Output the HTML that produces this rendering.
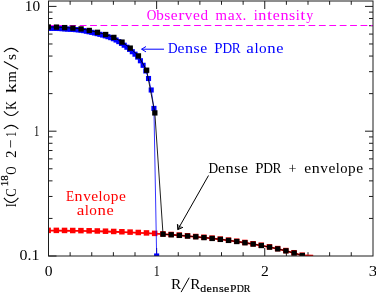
<!DOCTYPE html>
<html><head><meta charset="utf-8"><title>plot</title>
<style>html,body{margin:0;padding:0;background:#fff;overflow:hidden}svg{display:block;will-change:transform}text{font-family:"Liberation Serif",serif;}</style></head><body>
<svg width="376" height="293" viewBox="0 0 376 293">
<rect width="376" height="293" fill="#fff"/>
<defs><clipPath id="c"><rect x="48.5" y="1.0" width="324.5" height="255.0"/></clipPath></defs>
<path d="M48.50 256.0v-8.0M48.50 1.0v8.0M70.13 256.0v-3.8M70.13 1.0v3.8M91.75 256.0v-3.8M91.75 1.0v3.8M113.38 256.0v-3.8M113.38 1.0v3.8M135.00 256.0v-3.8M135.00 1.0v3.8M156.63 256.0v-8.0M156.63 1.0v8.0M178.26 256.0v-3.8M178.26 1.0v3.8M199.88 256.0v-3.8M199.88 1.0v3.8M221.51 256.0v-3.8M221.51 1.0v3.8M243.13 256.0v-3.8M243.13 1.0v3.8M264.76 256.0v-8.0M264.76 1.0v8.0M286.39 256.0v-3.8M286.39 1.0v3.8M308.01 256.0v-3.8M308.01 1.0v3.8M329.64 256.0v-3.8M329.64 1.0v3.8M351.26 256.0v-3.8M351.26 1.0v3.8M48.5 256.00h8.0M48.5 218.43h4.0M373.0 218.43h-4.0M48.5 196.46h4.0M373.0 196.46h-4.0M48.5 180.86h4.0M373.0 180.86h-4.0M48.5 168.77h4.0M373.0 168.77h-4.0M48.5 158.89h4.0M373.0 158.89h-4.0M48.5 150.53h4.0M373.0 150.53h-4.0M48.5 143.29h4.0M373.0 143.29h-4.0M48.5 136.91h4.0M373.0 136.91h-4.0M48.5 131.20h8.0M373.0 131.20h-8.0M48.5 93.63h4.0M373.0 93.63h-4.0M48.5 71.66h4.0M373.0 71.66h-4.0M48.5 56.06h4.0M373.0 56.06h-4.0M48.5 43.97h4.0M373.0 43.97h-4.0M48.5 34.09h4.0M373.0 34.09h-4.0M48.5 25.73h4.0M373.0 25.73h-4.0M48.5 18.49h4.0M373.0 18.49h-4.0M48.5 12.11h4.0M373.0 12.11h-4.0M48.5 6.40h8.0M373.0 6.40h-8.0" stroke="#1c1c1c" stroke-width="1" fill="none"/>
<g clip-path="url(#c)">
<path d="M48.30 230.66 L56.49 230.68 L64.69 230.73 L72.88 230.81 L81.08 230.93 L89.28 231.08 L97.47 231.27 L105.66 231.50 L113.86 231.76 L122.05 232.06 L130.25 232.40 L138.44 232.78 L146.64 233.21 L154.83 233.68 L163.03 234.19 L171.23 234.76 L179.42 235.38 L187.62 236.05 L195.81 236.78 L204.00 237.58 L212.20 238.44 L220.39 239.39 L228.59 240.41 L236.79 241.52 L244.98 242.74 L253.18 244.07 L261.37 245.52 L269.57 247.12 L277.76 248.89 L285.95 250.85 L294.15 253.04 L302.35 255.51 L313.20 255.70" stroke="#ff0000" stroke-width="1.8" fill="none"/>
<rect x="45.40" y="227.61" width="5.5" height="5.5" fill="#ff0000"/>
<rect x="53.59" y="227.63" width="5.5" height="5.5" fill="#ff0000"/>
<rect x="61.79" y="227.68" width="5.5" height="5.5" fill="#ff0000"/>
<rect x="69.98" y="227.76" width="5.5" height="5.5" fill="#ff0000"/>
<rect x="78.18" y="227.88" width="5.5" height="5.5" fill="#ff0000"/>
<rect x="86.38" y="228.03" width="5.5" height="5.5" fill="#ff0000"/>
<rect x="94.57" y="228.22" width="5.5" height="5.5" fill="#ff0000"/>
<rect x="102.76" y="228.45" width="5.5" height="5.5" fill="#ff0000"/>
<rect x="110.96" y="228.71" width="5.5" height="5.5" fill="#ff0000"/>
<rect x="119.15" y="229.01" width="5.5" height="5.5" fill="#ff0000"/>
<rect x="127.35" y="229.35" width="5.5" height="5.5" fill="#ff0000"/>
<rect x="135.54" y="229.73" width="5.5" height="5.5" fill="#ff0000"/>
<rect x="143.74" y="230.16" width="5.5" height="5.5" fill="#ff0000"/>
<rect x="151.93" y="230.63" width="5.5" height="5.5" fill="#ff0000"/>
<rect x="160.13" y="231.14" width="5.5" height="5.5" fill="#ff0000"/>
<rect x="168.33" y="231.71" width="5.5" height="5.5" fill="#ff0000"/>
<rect x="176.52" y="232.33" width="5.5" height="5.5" fill="#ff0000"/>
<rect x="184.72" y="233.00" width="5.5" height="5.5" fill="#ff0000"/>
<rect x="192.91" y="233.73" width="5.5" height="5.5" fill="#ff0000"/>
<rect x="201.10" y="234.53" width="5.5" height="5.5" fill="#ff0000"/>
<rect x="209.30" y="235.39" width="5.5" height="5.5" fill="#ff0000"/>
<rect x="217.49" y="236.34" width="5.5" height="5.5" fill="#ff0000"/>
<rect x="225.69" y="237.36" width="5.5" height="5.5" fill="#ff0000"/>
<rect x="233.89" y="238.47" width="5.5" height="5.5" fill="#ff0000"/>
<rect x="242.08" y="239.69" width="5.5" height="5.5" fill="#ff0000"/>
<rect x="250.28" y="241.02" width="5.5" height="5.5" fill="#ff0000"/>
<rect x="258.47" y="242.47" width="5.5" height="5.5" fill="#ff0000"/>
<rect x="266.67" y="244.07" width="5.5" height="5.5" fill="#ff0000"/>
<rect x="274.86" y="245.84" width="5.5" height="5.5" fill="#ff0000"/>
<rect x="283.06" y="247.80" width="5.5" height="5.5" fill="#ff0000"/>
<rect x="291.25" y="249.99" width="5.5" height="5.5" fill="#ff0000"/>
<rect x="299.45" y="252.46" width="5.5" height="5.5" fill="#ff0000"/>
<path d="M48.50 28.28 L51.20 28.29 L53.91 28.32 L56.61 28.39 L59.31 28.51 L62.02 28.69 L64.72 28.89 L67.42 29.06 L70.13 29.22 L72.83 29.40 L75.53 29.62 L78.24 29.88 L80.94 30.20 L83.64 30.63 L86.35 31.17 L89.05 31.76 L91.75 32.34 L94.46 32.96 L97.16 33.62 L99.86 34.31 L102.56 35.04 L105.27 35.83 L107.97 36.69 L110.67 37.63 L113.38 38.71 L116.08 40.03 L118.78 41.62 L121.49 43.38 L124.19 45.22 L126.89 47.22 L129.60 49.39 L132.30 51.71 L135.00 54.19 L137.71 57.10 L140.41 60.75 L143.11 65.29 L145.82 70.95 L148.52 78.50 L151.22 90.00 L153.93 108.40 L156.63 256.00" stroke="#0000ff" stroke-width="0.8" fill="none"/>
<rect x="45.95" y="25.73" width="5.1" height="5.1" fill="#0000ff"/>
<rect x="48.65" y="25.74" width="5.1" height="5.1" fill="#0000ff"/>
<rect x="51.36" y="25.77" width="5.1" height="5.1" fill="#0000ff"/>
<rect x="54.06" y="25.84" width="5.1" height="5.1" fill="#0000ff"/>
<rect x="56.76" y="25.96" width="5.1" height="5.1" fill="#0000ff"/>
<rect x="59.47" y="26.14" width="5.1" height="5.1" fill="#0000ff"/>
<rect x="62.17" y="26.34" width="5.1" height="5.1" fill="#0000ff"/>
<rect x="64.87" y="26.51" width="5.1" height="5.1" fill="#0000ff"/>
<rect x="67.58" y="26.67" width="5.1" height="5.1" fill="#0000ff"/>
<rect x="70.28" y="26.85" width="5.1" height="5.1" fill="#0000ff"/>
<rect x="72.98" y="27.07" width="5.1" height="5.1" fill="#0000ff"/>
<rect x="75.69" y="27.33" width="5.1" height="5.1" fill="#0000ff"/>
<rect x="78.39" y="27.65" width="5.1" height="5.1" fill="#0000ff"/>
<rect x="81.09" y="28.08" width="5.1" height="5.1" fill="#0000ff"/>
<rect x="83.80" y="28.62" width="5.1" height="5.1" fill="#0000ff"/>
<rect x="86.50" y="29.21" width="5.1" height="5.1" fill="#0000ff"/>
<rect x="89.20" y="29.79" width="5.1" height="5.1" fill="#0000ff"/>
<rect x="91.91" y="30.41" width="5.1" height="5.1" fill="#0000ff"/>
<rect x="94.61" y="31.07" width="5.1" height="5.1" fill="#0000ff"/>
<rect x="97.31" y="31.76" width="5.1" height="5.1" fill="#0000ff"/>
<rect x="100.02" y="32.49" width="5.1" height="5.1" fill="#0000ff"/>
<rect x="102.72" y="33.28" width="5.1" height="5.1" fill="#0000ff"/>
<rect x="105.42" y="34.14" width="5.1" height="5.1" fill="#0000ff"/>
<rect x="108.12" y="35.08" width="5.1" height="5.1" fill="#0000ff"/>
<rect x="110.83" y="36.16" width="5.1" height="5.1" fill="#0000ff"/>
<rect x="113.53" y="37.48" width="5.1" height="5.1" fill="#0000ff"/>
<rect x="116.23" y="39.07" width="5.1" height="5.1" fill="#0000ff"/>
<rect x="118.94" y="40.83" width="5.1" height="5.1" fill="#0000ff"/>
<rect x="121.64" y="42.67" width="5.1" height="5.1" fill="#0000ff"/>
<rect x="124.34" y="44.67" width="5.1" height="5.1" fill="#0000ff"/>
<rect x="127.05" y="46.84" width="5.1" height="5.1" fill="#0000ff"/>
<rect x="129.75" y="49.16" width="5.1" height="5.1" fill="#0000ff"/>
<rect x="132.45" y="51.64" width="5.1" height="5.1" fill="#0000ff"/>
<rect x="135.16" y="54.55" width="5.1" height="5.1" fill="#0000ff"/>
<rect x="137.86" y="58.20" width="5.1" height="5.1" fill="#0000ff"/>
<rect x="140.56" y="62.74" width="5.1" height="5.1" fill="#0000ff"/>
<rect x="143.27" y="68.40" width="5.1" height="5.1" fill="#0000ff"/>
<rect x="145.97" y="75.95" width="5.1" height="5.1" fill="#0000ff"/>
<rect x="148.67" y="87.45" width="5.1" height="5.1" fill="#0000ff"/>
<rect x="151.38" y="105.85" width="5.1" height="5.1" fill="#0000ff"/>
<rect x="154.08" y="253.45" width="5.1" height="5.1" fill="#0000ff"/>
<path d="M48.5 25.4H373.0" stroke="#ff00ff" stroke-width="1.05" stroke-dasharray="6.8 3.6" fill="none"/>
<path d="M48.30 27.00 L56.49 27.10 L64.69 27.60 L72.88 28.10 L81.08 28.90 L89.28 30.45 L97.47 32.30 L105.66 34.50 L113.86 37.40 L122.05 42.10 L130.25 48.10 L138.44 55.90 L146.64 70.20 L154.83 112.90 L163.03 234.19 L171.23 234.76 L179.42 235.38 L187.62 236.05 L195.81 236.78 L204.00 237.58 L212.20 238.44 L220.39 239.39 L228.59 240.41 L236.79 241.52 L244.98 242.74 L253.18 244.07 L261.37 245.52 L269.57 247.12 L277.76 248.89 L285.95 250.85 L294.15 253.04 L302.35 255.51" stroke="#000" stroke-width="0.88" fill="none"/>
<rect x="45.65" y="24.35" width="5.3" height="5.3" fill="#000"/>
<rect x="53.84" y="24.45" width="5.3" height="5.3" fill="#000"/>
<rect x="62.04" y="24.95" width="5.3" height="5.3" fill="#000"/>
<rect x="70.23" y="25.45" width="5.3" height="5.3" fill="#000"/>
<rect x="78.43" y="26.25" width="5.3" height="5.3" fill="#000"/>
<rect x="86.62" y="27.80" width="5.3" height="5.3" fill="#000"/>
<rect x="94.82" y="29.65" width="5.3" height="5.3" fill="#000"/>
<rect x="103.01" y="31.85" width="5.3" height="5.3" fill="#000"/>
<rect x="111.21" y="34.75" width="5.3" height="5.3" fill="#000"/>
<rect x="119.40" y="39.45" width="5.3" height="5.3" fill="#000"/>
<rect x="127.60" y="45.45" width="5.3" height="5.3" fill="#000"/>
<rect x="135.79" y="53.25" width="5.3" height="5.3" fill="#000"/>
<rect x="143.99" y="67.55" width="5.3" height="5.3" fill="#000"/>
<rect x="152.18" y="110.25" width="5.3" height="5.3" fill="#000"/>
<rect x="160.38" y="231.54" width="5.3" height="5.3" fill="#000"/>
<rect x="168.58" y="232.11" width="5.3" height="5.3" fill="#000"/>
<rect x="176.77" y="232.73" width="5.3" height="5.3" fill="#000"/>
<rect x="184.97" y="233.40" width="5.3" height="5.3" fill="#000"/>
<rect x="193.16" y="234.13" width="5.3" height="5.3" fill="#000"/>
<rect x="201.35" y="234.93" width="5.3" height="5.3" fill="#000"/>
<rect x="209.55" y="235.79" width="5.3" height="5.3" fill="#000"/>
<rect x="217.74" y="236.74" width="5.3" height="5.3" fill="#000"/>
<rect x="225.94" y="237.76" width="5.3" height="5.3" fill="#000"/>
<rect x="234.14" y="238.87" width="5.3" height="5.3" fill="#000"/>
<rect x="242.33" y="240.09" width="5.3" height="5.3" fill="#000"/>
<rect x="250.53" y="241.42" width="5.3" height="5.3" fill="#000"/>
<rect x="258.72" y="242.87" width="5.3" height="5.3" fill="#000"/>
<rect x="266.92" y="244.47" width="5.3" height="5.3" fill="#000"/>
<rect x="275.11" y="246.24" width="5.3" height="5.3" fill="#000"/>
<rect x="283.31" y="248.20" width="5.3" height="5.3" fill="#000"/>
<rect x="291.50" y="250.39" width="5.3" height="5.3" fill="#000"/>
<rect x="299.70" y="252.86" width="5.3" height="5.3" fill="#000"/>
</g>
<rect x="48.5" y="1.0" width="324.5" height="255.0" fill="none" stroke="#1c1c1c" stroke-width="1"/>
<path d="M164 49.2H141.6M146 46.5L141.6 49.2L146 51.9" stroke="#0000ff" stroke-width="1" fill="none"/>
<path d="M177.4 224.1L177.8 229.6L183 227.3Z" fill="#000" fill-opacity="0.45" stroke="none"/>
<path d="M208.5 175.5L177.8 229.6M177.4 224.1L177.8 229.6L183 227.3" stroke="#000" stroke-width="1" fill="none"/>
<text x="146.75" y="20.2" font-size="14.1" fill="#ff00ff" text-anchor="start" textLength="9.67" lengthAdjust="spacingAndGlyphs">O</text>
<text x="156.15" y="20.2" font-size="14.1" fill="#ff00ff" text-anchor="start" textLength="7.58" lengthAdjust="spacingAndGlyphs">b</text>
<text x="164.25" y="20.2" font-size="14.1" fill="#ff00ff" text-anchor="start" textLength="6.14" lengthAdjust="spacingAndGlyphs">s</text>
<text x="170.87" y="20.2" font-size="14.1" fill="#ff00ff" text-anchor="start" textLength="6.86" lengthAdjust="spacingAndGlyphs">e</text>
<text x="178.23" y="20.2" font-size="14.1" fill="#ff00ff" text-anchor="start" textLength="6.14" lengthAdjust="spacingAndGlyphs">r</text>
<text x="184.88" y="20.2" font-size="14.1" fill="#ff00ff" text-anchor="start" textLength="7.58" lengthAdjust="spacingAndGlyphs">v</text>
<text x="193.01" y="20.2" font-size="14.1" fill="#ff00ff" text-anchor="start" textLength="6.86" lengthAdjust="spacingAndGlyphs">e</text>
<text x="200.41" y="20.2" font-size="14.1" fill="#ff00ff" text-anchor="start" textLength="7.58" lengthAdjust="spacingAndGlyphs">d</text>
<text x="215.47" y="20.2" font-size="14.1" fill="#ff00ff" text-anchor="start" textLength="11.52" lengthAdjust="spacingAndGlyphs">m</text>
<text x="227.68" y="20.2" font-size="14.1" fill="#ff00ff" text-anchor="start" textLength="6.98" lengthAdjust="spacingAndGlyphs">a</text>
<text x="235.19" y="20.2" font-size="14.1" fill="#ff00ff" text-anchor="start" textLength="6.98" lengthAdjust="spacingAndGlyphs">x</text>
<text x="242.58" y="20.2" font-size="14.1" fill="#ff00ff" text-anchor="start" textLength="3.84" lengthAdjust="spacingAndGlyphs">.</text>
<text x="253.76" y="20.2" font-size="14.1" fill="#ff00ff" text-anchor="start" textLength="4.05" lengthAdjust="spacingAndGlyphs">i</text>
<text x="258.27" y="20.2" font-size="14.1" fill="#ff00ff" text-anchor="start" textLength="8.1" lengthAdjust="spacingAndGlyphs">n</text>
<text x="267.06" y="20.2" font-size="14.1" fill="#ff00ff" text-anchor="start" textLength="5.17" lengthAdjust="spacingAndGlyphs">t</text>
<text x="272.87" y="20.2" font-size="14.1" fill="#ff00ff" text-anchor="start" textLength="7.0" lengthAdjust="spacingAndGlyphs">e</text>
<text x="280.44" y="20.2" font-size="14.1" fill="#ff00ff" text-anchor="start" textLength="8.1" lengthAdjust="spacingAndGlyphs">n</text>
<text x="289.08" y="20.2" font-size="14.1" fill="#ff00ff" text-anchor="start" textLength="6.26" lengthAdjust="spacingAndGlyphs">s</text>
<text x="295.73" y="20.2" font-size="14.1" fill="#ff00ff" text-anchor="start" textLength="4.05" lengthAdjust="spacingAndGlyphs">i</text>
<text x="300.32" y="20.2" font-size="14.1" fill="#ff00ff" text-anchor="start" textLength="5.17" lengthAdjust="spacingAndGlyphs">t</text>
<text x="306.13" y="20.2" font-size="14.1" fill="#ff00ff" text-anchor="start" textLength="7.0" lengthAdjust="spacingAndGlyphs">y</text>
<text x="168.0" y="52.7" font-size="14.1" fill="#0000ff" text-anchor="start" textLength="9.67" lengthAdjust="spacingAndGlyphs">D</text>
<text x="177.43" y="52.7" font-size="14.1" fill="#0000ff" text-anchor="start" textLength="6.96" lengthAdjust="spacingAndGlyphs">e</text>
<text x="184.96" y="52.7" font-size="14.1" fill="#0000ff" text-anchor="start" textLength="8.06" lengthAdjust="spacingAndGlyphs">n</text>
<text x="193.55" y="52.7" font-size="14.1" fill="#0000ff" text-anchor="start" textLength="6.23" lengthAdjust="spacingAndGlyphs">s</text>
<text x="200.27" y="52.7" font-size="14.1" fill="#0000ff" text-anchor="start" textLength="6.96" lengthAdjust="spacingAndGlyphs">e</text>
<text x="214.31" y="52.7" font-size="14.1" fill="#0000ff" text-anchor="start" textLength="8.25" lengthAdjust="spacingAndGlyphs">P</text>
<text x="222.46" y="52.7" font-size="14.1" fill="#0000ff" text-anchor="start" textLength="9.67" lengthAdjust="spacingAndGlyphs">D</text>
<text x="231.7" y="52.7" font-size="14.1" fill="#0000ff" text-anchor="start" textLength="8.93" lengthAdjust="spacingAndGlyphs">R</text>
<text x="246.37" y="52.7" font-size="14.1" fill="#0000ff" text-anchor="start" textLength="7.61" lengthAdjust="spacingAndGlyphs">a</text>
<text x="254.42" y="52.7" font-size="14.1" fill="#0000ff" text-anchor="start" textLength="4.18" lengthAdjust="spacingAndGlyphs">l</text>
<text x="259.05" y="52.7" font-size="14.1" fill="#0000ff" text-anchor="start" textLength="7.61" lengthAdjust="spacingAndGlyphs">o</text>
<text x="267.26" y="52.7" font-size="14.1" fill="#0000ff" text-anchor="start" textLength="8.37" lengthAdjust="spacingAndGlyphs">n</text>
<text x="276.21" y="52.7" font-size="14.1" fill="#0000ff" text-anchor="start" textLength="7.23" lengthAdjust="spacingAndGlyphs">e</text>
<text x="208.54" y="172.9" font-size="14.1" fill="#000" text-anchor="start" textLength="9.67" lengthAdjust="spacingAndGlyphs">D</text>
<text x="218.02" y="172.9" font-size="14.1" fill="#000" text-anchor="start" textLength="7.03" lengthAdjust="spacingAndGlyphs">e</text>
<text x="225.62" y="172.9" font-size="14.1" fill="#000" text-anchor="start" textLength="8.14" lengthAdjust="spacingAndGlyphs">n</text>
<text x="234.31" y="172.9" font-size="14.1" fill="#000" text-anchor="start" textLength="6.29" lengthAdjust="spacingAndGlyphs">s</text>
<text x="241.1" y="172.9" font-size="14.1" fill="#000" text-anchor="start" textLength="7.03" lengthAdjust="spacingAndGlyphs">e</text>
<text x="255.21" y="172.9" font-size="14.1" fill="#000" text-anchor="start" textLength="8.25" lengthAdjust="spacingAndGlyphs">P</text>
<text x="263.36" y="172.9" font-size="14.1" fill="#000" text-anchor="start" textLength="9.67" lengthAdjust="spacingAndGlyphs">D</text>
<text x="272.6" y="172.9" font-size="14.1" fill="#000" text-anchor="start" textLength="8.93" lengthAdjust="spacingAndGlyphs">R</text>
<text x="288.41" y="172.9" font-size="14.1" fill="#000" text-anchor="start" textLength="7.99" lengthAdjust="spacingAndGlyphs">+</text>
<text x="304.27" y="172.9" font-size="14.1" fill="#000" text-anchor="start" textLength="6.9" lengthAdjust="spacingAndGlyphs">e</text>
<text x="311.74" y="172.9" font-size="14.1" fill="#000" text-anchor="start" textLength="7.99" lengthAdjust="spacingAndGlyphs">n</text>
<text x="320.32" y="172.9" font-size="14.1" fill="#000" text-anchor="start" textLength="7.63" lengthAdjust="spacingAndGlyphs">v</text>
<text x="328.49" y="172.9" font-size="14.1" fill="#000" text-anchor="start" textLength="6.9" lengthAdjust="spacingAndGlyphs">e</text>
<text x="335.8" y="172.9" font-size="14.1" fill="#000" text-anchor="start" textLength="4.0" lengthAdjust="spacingAndGlyphs">l</text>
<text x="340.22" y="172.9" font-size="14.1" fill="#000" text-anchor="start" textLength="7.27" lengthAdjust="spacingAndGlyphs">o</text>
<text x="348.05" y="172.9" font-size="14.1" fill="#000" text-anchor="start" textLength="7.63" lengthAdjust="spacingAndGlyphs">p</text>
<text x="356.22" y="172.9" font-size="14.1" fill="#000" text-anchor="start" textLength="6.9" lengthAdjust="spacingAndGlyphs">e</text>
<text x="66.12" y="201" font-size="14.1" fill="#ff0000" text-anchor="start" textLength="8.18" lengthAdjust="spacingAndGlyphs">E</text>
<text x="74.61" y="201" font-size="14.1" fill="#ff0000" text-anchor="start" textLength="7.98" lengthAdjust="spacingAndGlyphs">n</text>
<text x="83.17" y="201" font-size="14.1" fill="#ff0000" text-anchor="start" textLength="7.62" lengthAdjust="spacingAndGlyphs">v</text>
<text x="91.34" y="201" font-size="14.1" fill="#ff0000" text-anchor="start" textLength="6.89" lengthAdjust="spacingAndGlyphs">e</text>
<text x="98.64" y="201" font-size="14.1" fill="#ff0000" text-anchor="start" textLength="3.99" lengthAdjust="spacingAndGlyphs">l</text>
<text x="103.05" y="201" font-size="14.1" fill="#ff0000" text-anchor="start" textLength="7.26" lengthAdjust="spacingAndGlyphs">o</text>
<text x="110.87" y="201" font-size="14.1" fill="#ff0000" text-anchor="start" textLength="7.62" lengthAdjust="spacingAndGlyphs">p</text>
<text x="119.03" y="201" font-size="14.1" fill="#ff0000" text-anchor="start" textLength="6.89" lengthAdjust="spacingAndGlyphs">e</text>
<text x="76.67" y="214.7" font-size="14.1" fill="#ff0000" text-anchor="start" textLength="7.61" lengthAdjust="spacingAndGlyphs">a</text>
<text x="84.72" y="214.7" font-size="14.1" fill="#ff0000" text-anchor="start" textLength="4.18" lengthAdjust="spacingAndGlyphs">l</text>
<text x="89.35" y="214.7" font-size="14.1" fill="#ff0000" text-anchor="start" textLength="7.61" lengthAdjust="spacingAndGlyphs">o</text>
<text x="97.56" y="214.7" font-size="14.1" fill="#ff0000" text-anchor="start" textLength="8.37" lengthAdjust="spacingAndGlyphs">n</text>
<text x="106.51" y="214.7" font-size="14.1" fill="#ff0000" text-anchor="start" textLength="7.23" lengthAdjust="spacingAndGlyphs">e</text>
<text x="24.8" y="10.7" font-size="14.6" fill="#000" text-anchor="start" textLength="15.3" lengthAdjust="spacingAndGlyphs">10</text>
<text x="33.9" y="135.8" font-size="14.6" fill="#000" text-anchor="start" textLength="5.3" lengthAdjust="spacingAndGlyphs">1</text>
<text x="19.5" y="260.2" font-size="14.6" fill="#000" text-anchor="start" textLength="19.9" lengthAdjust="spacingAndGlyphs">0.1</text>
<text x="44.8" y="275.9" font-size="15.0" fill="#000" text-anchor="start" textLength="7.8" lengthAdjust="spacingAndGlyphs">0</text>
<text x="153.83" y="275.9" font-size="15.0" fill="#000" text-anchor="start" textLength="6.0" lengthAdjust="spacingAndGlyphs">1</text>
<text x="261.06" y="275.9" font-size="15.0" fill="#000" text-anchor="start" textLength="7.8" lengthAdjust="spacingAndGlyphs">2</text>
<text x="368.89" y="275.9" font-size="15.0" fill="#000" text-anchor="start" textLength="8.4" lengthAdjust="spacingAndGlyphs">3</text>
<text x="171.1" y="288.5" font-size="15.4" fill="#000" text-anchor="start" textLength="10.25" lengthAdjust="spacingAndGlyphs">R</text>
<text x="190.2" y="288.5" font-size="15.4" fill="#000" text-anchor="start" textLength="10.15" lengthAdjust="spacingAndGlyphs">R</text>
<path d="M181.1 292.1L189.2 277.7" stroke="#000" stroke-width="1" fill="none"/>
<text x="200.32" y="291.8" font-size="10.4" fill="#000" text-anchor="start" textLength="5.88" lengthAdjust="spacingAndGlyphs" stroke="#000" stroke-width="0.18">d</text>
<text x="206.62" y="291.8" font-size="10.4" fill="#000" text-anchor="start" textLength="5.32" lengthAdjust="spacingAndGlyphs" stroke="#000" stroke-width="0.18">e</text>
<text x="212.37" y="291.8" font-size="10.4" fill="#000" text-anchor="start" textLength="6.16" lengthAdjust="spacingAndGlyphs" stroke="#000" stroke-width="0.18">n</text>
<text x="218.94" y="291.8" font-size="10.4" fill="#000" text-anchor="start" textLength="4.76" lengthAdjust="spacingAndGlyphs" stroke="#000" stroke-width="0.18">s</text>
<text x="224.08" y="291.8" font-size="10.4" fill="#000" text-anchor="start" textLength="5.32" lengthAdjust="spacingAndGlyphs" stroke="#000" stroke-width="0.18">e</text>
<text x="230.03" y="291.8" font-size="10.4" fill="#000" text-anchor="start" textLength="6.46" lengthAdjust="spacingAndGlyphs" stroke="#000" stroke-width="0.18">P</text>
<text x="236.63" y="291.8" font-size="10.4" fill="#000" text-anchor="start" textLength="7.14" lengthAdjust="spacingAndGlyphs" stroke="#000" stroke-width="0.18">D</text>
<text x="243.85" y="291.8" font-size="10.4" fill="#000" text-anchor="start" textLength="6.59" lengthAdjust="spacingAndGlyphs" stroke="#000" stroke-width="0.18">R</text>
<g transform="translate(15.9 207.5) rotate(-90)">
<text x="0.2" y="0" font-size="15.4" fill="#000" text-anchor="start" textLength="3.98" lengthAdjust="spacingAndGlyphs">I</text>
<text x="10.8" y="0" font-size="15.4" fill="#000" text-anchor="start" textLength="8.33" lengthAdjust="spacingAndGlyphs">C</text>
<text x="32.8" y="0" font-size="15.4" fill="#000" text-anchor="start" textLength="8.33" lengthAdjust="spacingAndGlyphs">O</text>
<text x="49.6" y="0" font-size="15.4" fill="#000" text-anchor="start" textLength="7.5" lengthAdjust="spacingAndGlyphs">2</text>
<text x="59.2" y="0" font-size="15.4" fill="#000" text-anchor="start" textLength="8.88" lengthAdjust="spacingAndGlyphs">−</text>
<text x="70.5" y="0" font-size="15.4" fill="#000" text-anchor="start" textLength="5.4" lengthAdjust="spacingAndGlyphs">1</text>
<text x="97.7" y="0" font-size="15.4" fill="#000" text-anchor="start" textLength="8.63" lengthAdjust="spacingAndGlyphs">K</text>
<text x="114.2" y="0" font-size="15.4" fill="#000" text-anchor="start" textLength="10.1" lengthAdjust="spacingAndGlyphs">k</text>
<text x="124.9" y="0" font-size="15.4" fill="#000" text-anchor="start" textLength="11.37" lengthAdjust="spacingAndGlyphs">m</text>
<text x="147.4" y="0" font-size="15.4" fill="#000" text-anchor="start" textLength="5.99" lengthAdjust="spacingAndGlyphs">s</text>
<text x="21.2" y="-8.2" font-size="10.6" fill="#000" text-anchor="start" textLength="11.0" lengthAdjust="spacingAndGlyphs" stroke="#000" stroke-width="0.25">18</text>
<path d="M9.6 -12Q0.40 -4.75 9.6 2.5M78.5 -12Q85.70 -4.75 78.5 2.5M96.1 -12Q87.90 -4.75 96.1 2.5M155.5 -12Q162.70 -4.75 155.5 2.5M138.2 2.3L146 -12" stroke="#000" stroke-width="1.05" fill="none"/>
</g>
</svg></body></html>
